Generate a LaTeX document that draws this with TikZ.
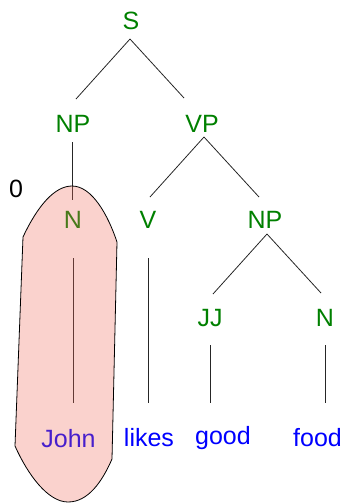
\documentclass[tikz,border=0pt]{standalone}
\usepackage{fontspec}
\setmainfont{Liberation Sans}
\definecolor{catgreen}{RGB}{0,128,0}
\definecolor{wordblue}{RGB}{0,0,255}
\definecolor{blobfill}{RGB}{238,105,88}
\begin{document}
\begin{tikzpicture}[x=1pt,y=-1pt,
  lab/.style={anchor=base,inner sep=0pt,font=\fontsize{25}{30}\selectfont},
  cat/.style={lab,text=catgreen},
  word/.style={lab,text=wordblue},
  edge/.style={draw=black!85,line width=0.8pt},
  blob/.style={draw=black,line width=0.8pt,fill=blobfill,fill opacity=0.3}]
\useasboundingbox (0,0) rectangle (345,504);
% labels
\node[cat] (S) at (131,29) {S};
\node[cat] (NPl) at (73,132) {NP};
\node[cat] (VP) at (202,132) {VP};
\node[cat] (Nl) at (73,228) {N};
\node[cat] (V) at (148,228) {V};
\node[cat] (NPr) at (265,228) {NP};
\node[cat] (JJ) at (210,326) {JJ};
\node[cat] (Nr) at (325,326) {N};
\node[word] (John) at (68.5,447) {John};
\node[word] (likes) at (149,446) {likes};
\node[word] (good) at (223,444) {good};
\node[word] (food) at (317.5,446) {food};
\node[lab,text=black] (zero) at (16,197) {0};
% connectors
\draw[edge] ([shift={(-1,10)}]S.base) -- ([shift={(3,-33)}]NPl.base);
\draw[edge] ([shift={(-1,10)}]S.base) -- ([shift={(-18,-34)}]VP.base);
\draw[edge] ([shift={(-1,10)}]NPl.base) -- ([shift={(-1,-28)}]Nl.base);
\draw[edge] ([shift={(2,5)}]VP.base) -- ([shift={(2,-31)}]V.base);
\draw[edge] ([shift={(2,5)}]VP.base) -- ([shift={(-6,-31)}]NPr.base);
\draw[edge] ([shift={(2,6)}]NPr.base) -- ([shift={(3,-32)}]JJ.base);
\draw[edge] ([shift={(2,6)}]NPr.base) -- ([shift={(-4,-33)}]Nr.base);
\draw[edge] ([shift={(0,30)}]Nl.base) -- ([shift={(4.5,-44)}]John.base);
\draw[edge] ([shift={(0,30)}]V.base) -- ([shift={(-1,-43)}]likes.base);
\draw[edge] ([shift={(0,19)}]JJ.base) -- ([shift={(-13,-41)}]good.base);
\draw[edge] ([shift={(0,19)}]Nr.base) -- ([shift={(7.5,-43)}]food.base);
% highlight blob
\path[blob] (23,237) .. controls (38,205) and (55,186) .. (72,186)
  .. controls (92,186) and (108,215) .. (117,242) -- (112,459)
  .. controls (102,482) and (88,502) .. (68,502)
  .. controls (48,502) and (28,475) .. (15,446) -- cycle;
\end{tikzpicture}
\end{document}
